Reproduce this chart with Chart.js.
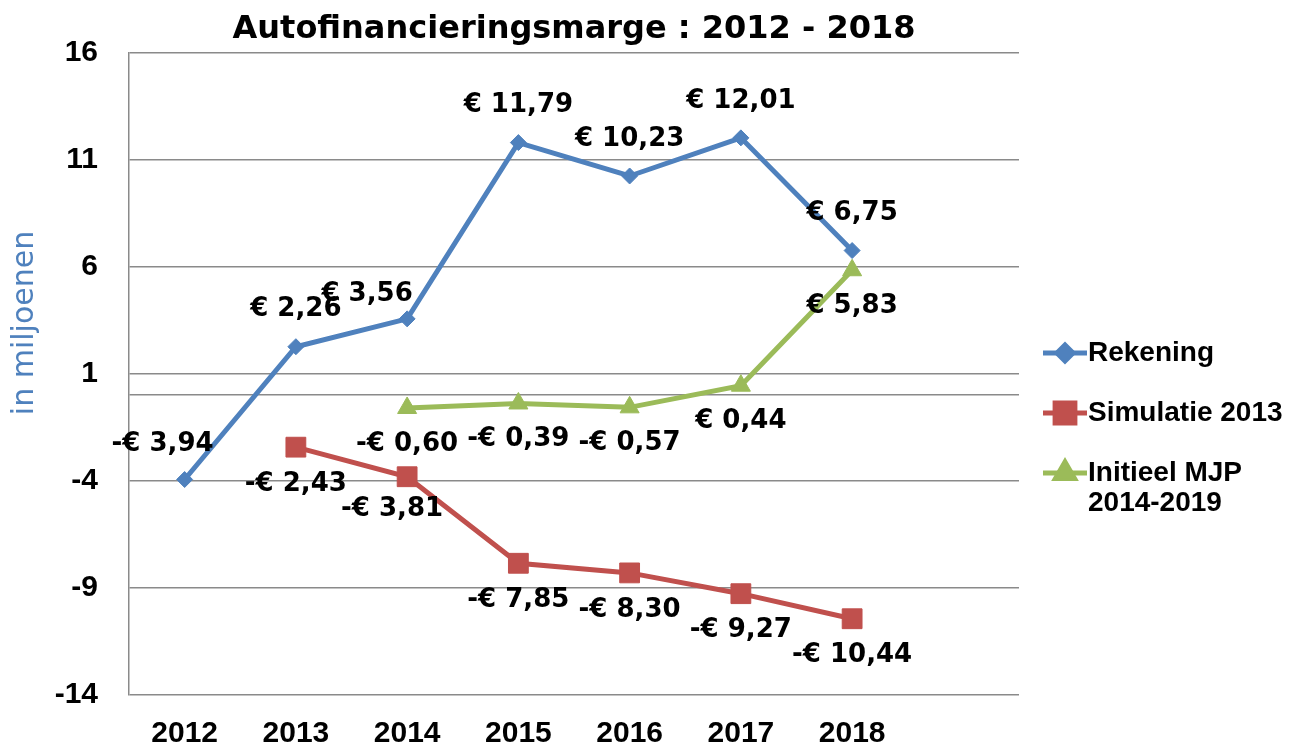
<!DOCTYPE html>
<html lang="nl">
<head>
    <meta charset="UTF-8">
    <title>Autofinancieringsmarge 2012 - 2018</title>
    <style>
        body { margin: 0; background: #fff; }
    </style>
</head>
<body>
    <canvas id="amChart" width="1292" height="747"></canvas>

    <script src="https://cdn.jsdelivr.net/npm/chart.js@4.4.1/dist/chart.umd.min.js"></script>
    <script>
        // jaren (laatste categorie is leeg, zoals in de Excel-grafiek)
        const jaren = ['2012', '2013', '2014', '2015', '2016', '2017', '2018', ''];

        // bedragen in miljoenen euro
        const rekening   = [-3.94, 2.26, 3.56, 11.79, 10.23, 12.01, 6.75, null];
        const simulatie  = [null, -2.43, -3.81, -7.85, -8.30, -9.27, -10.44, null];
        const initieel   = [null, null, -0.60, -0.39, -0.57, 0.44, 5.83, null];

        const reeksNamen = ['Rekening', 'Simulatie 2013', ['Initieel MJP', '2014-2019']];

        const yMin = -14, yMax = 16, yStap = 5;

        const blauw = '#4F81BD', rood = '#C0504D', groen = '#9BBB59';
        const grijs = '#8a8a8a';

        function euro(v) {
            const s = Math.abs(v).toFixed(2).replace('.', ',');
            return (v < 0 ? '-€ ' : '€ ') + s;
        }

        // labels boven/onder de punten, met een paar handmatige verschuivingen
        const labelPlugin = {
            id: 'waardeLabels',
            afterDatasetsDraw(chart, args, opts) {
                const ctx = chart.ctx;
                ctx.save();
                ctx.font = opts.font;
                ctx.fillStyle = '#000';
                ctx.textAlign = 'center';
                ctx.textBaseline = 'middle';
                chart.data.datasets.forEach((ds, i) => {
                    const meta = chart.getDatasetMeta(i);
                    meta.data.forEach((pt, j) => {
                        const v = ds.data[j];
                        if (v === null || v === undefined) return;
                        let dx = 0, dy = opts.afstand[i];
                        const extra = (opts.verschuif[i] || {})[j];
                        if (extra) { dx += extra[0]; dy += extra[1]; }
                        ctx.fillText(euro(v), pt.x + dx, pt.y + dy);
                    });
                });
                ctx.restore();
            }
        };

        // legenda rechts en de as-titel
        const extraPlugin = {
            id: 'legendaEnTitel',
            afterDraw(chart) {
                const ctx = chart.ctx;
                const area = chart.chartArea;
                ctx.save();

                // as-titel
                ctx.translate(25, 323);
                ctx.rotate(-Math.PI / 2);
                ctx.font = '30px "DejaVu Sans"';
                ctx.fillStyle = blauw;
                ctx.textAlign = 'center';
                ctx.textBaseline = 'middle';
                ctx.fillText('in miljoenen', 0, 0);
                ctx.restore();

                ctx.save();
                const x0 = area.right + 24;
                const rijen = [353, 413, 473];
                ctx.font = 'bold 28px "Liberation Sans", Arial';
                ctx.textBaseline = 'middle';
                chart.data.datasets.forEach((ds, i) => {
                    const y = rijen[i];
                    ctx.strokeStyle = ds.borderColor;
                    ctx.lineWidth = 5;
                    ctx.beginPath();
                    ctx.moveTo(x0, y);
                    ctx.lineTo(x0 + 44, y);
                    ctx.stroke();
                    ctx.fillStyle = ds.backgroundColor;
                    Chart.helpers.drawPoint(ctx, {
                        pointStyle: ds.pointStyle,
                        radius: ds.pointRadius,
                        borderWidth: 1,
                        rotation: 0
                    }, x0 + 22, y);
                    ctx.fill();
                    ctx.fillStyle = '#000';
                    const naam = reeksNamen[i];
                    const regels = Array.isArray(naam) ? naam : [naam];
                    regels.forEach((r, k) => ctx.fillText(r, x0 + 45, y + k * 30));
                });
                ctx.restore();
            }
        };

        function reeks(label, data, kleur, stijl, r) {
            return {
                label: label,
                data: data,
                borderColor: kleur,
                backgroundColor: kleur,
                borderWidth: 5,
                pointStyle: stijl,
                pointRadius: r,
                pointHoverRadius: r,
                pointBorderWidth: 1,
                tension: 0,
                spanGaps: false
            };
        }

        new Chart(document.getElementById('amChart'), {
            type: 'line',
            data: {
                labels: jaren,
                datasets: [
                    reeks('Rekening', rekening, blauw, 'rectRot', 8),
                    reeks('Simulatie 2013', simulatie, rood, 'rect', 14),
                    reeks('Initieel MJP 2014-2019', initieel, groen, 'triangle', 11)
                ]
            },
            options: {
                responsive: false,
                animation: false,
                layout: { padding: { left: 0, right: 273, top: 0, bottom: 0 } },
                plugins: {
                    legend: { display: false },
                    tooltip: { enabled: false },
                    title: {
                        display: true,
                        text: 'Autofinancieringsmarge : 2012 - 2018',
                        fullSize: false,
                        color: '#000',
                        font: { family: 'DejaVu Sans', size: 32, weight: 'bold', lineHeight: 1.2 },
                        padding: { top: 10, bottom: 4 }
                    },
                    waardeLabels: {
                        font: 'bold 26px "DejaVu Sans"',
                        afstand: [-37, 37, 36],
                        verschuif: {
                            0: { 0: [-22, 2], 2: [-40, 12] },
                            1: { 2: [-15, -4] }
                        }
                    }
                },
                scales: {
                    x: {
                        offset: true,
                        grid: { display: false },
                        border: { display: false },
                        ticks: {
                            color: '#000',
                            padding: 13,
                            maxRotation: 0,
                            autoSkip: false,
                            font: { family: 'Liberation Sans', size: 30, weight: 'bold' }
                        },
                        afterFit(scale) { scale.height = 52; }
                    },
                    y: {
                        min: yMin,
                        max: yMax,
                        grid: { color: grijs, lineWidth: 1.5, drawTicks: false },
                        border: { display: true, color: grijs, width: 1.5 },
                        ticks: {
                            stepSize: yStap,
                            color: '#000',
                            padding: 31,
                            font: { family: 'Liberation Sans', size: 30, weight: 'bold' },
                            callback: (v) => (v === 0 ? '' : v)
                        },
                        afterBuildTicks(scale) {
                            // lijn op 0, zoals de categorie-as in Excel
                            scale.ticks.push({ value: 0 });
                            scale.ticks.sort((a, b) => a.value - b.value);
                        },
                        afterFit(scale) { scale.width = 129; }
                    }
                }
            },
            plugins: [labelPlugin, extraPlugin]
        });
    </script>
</body>
</html>
